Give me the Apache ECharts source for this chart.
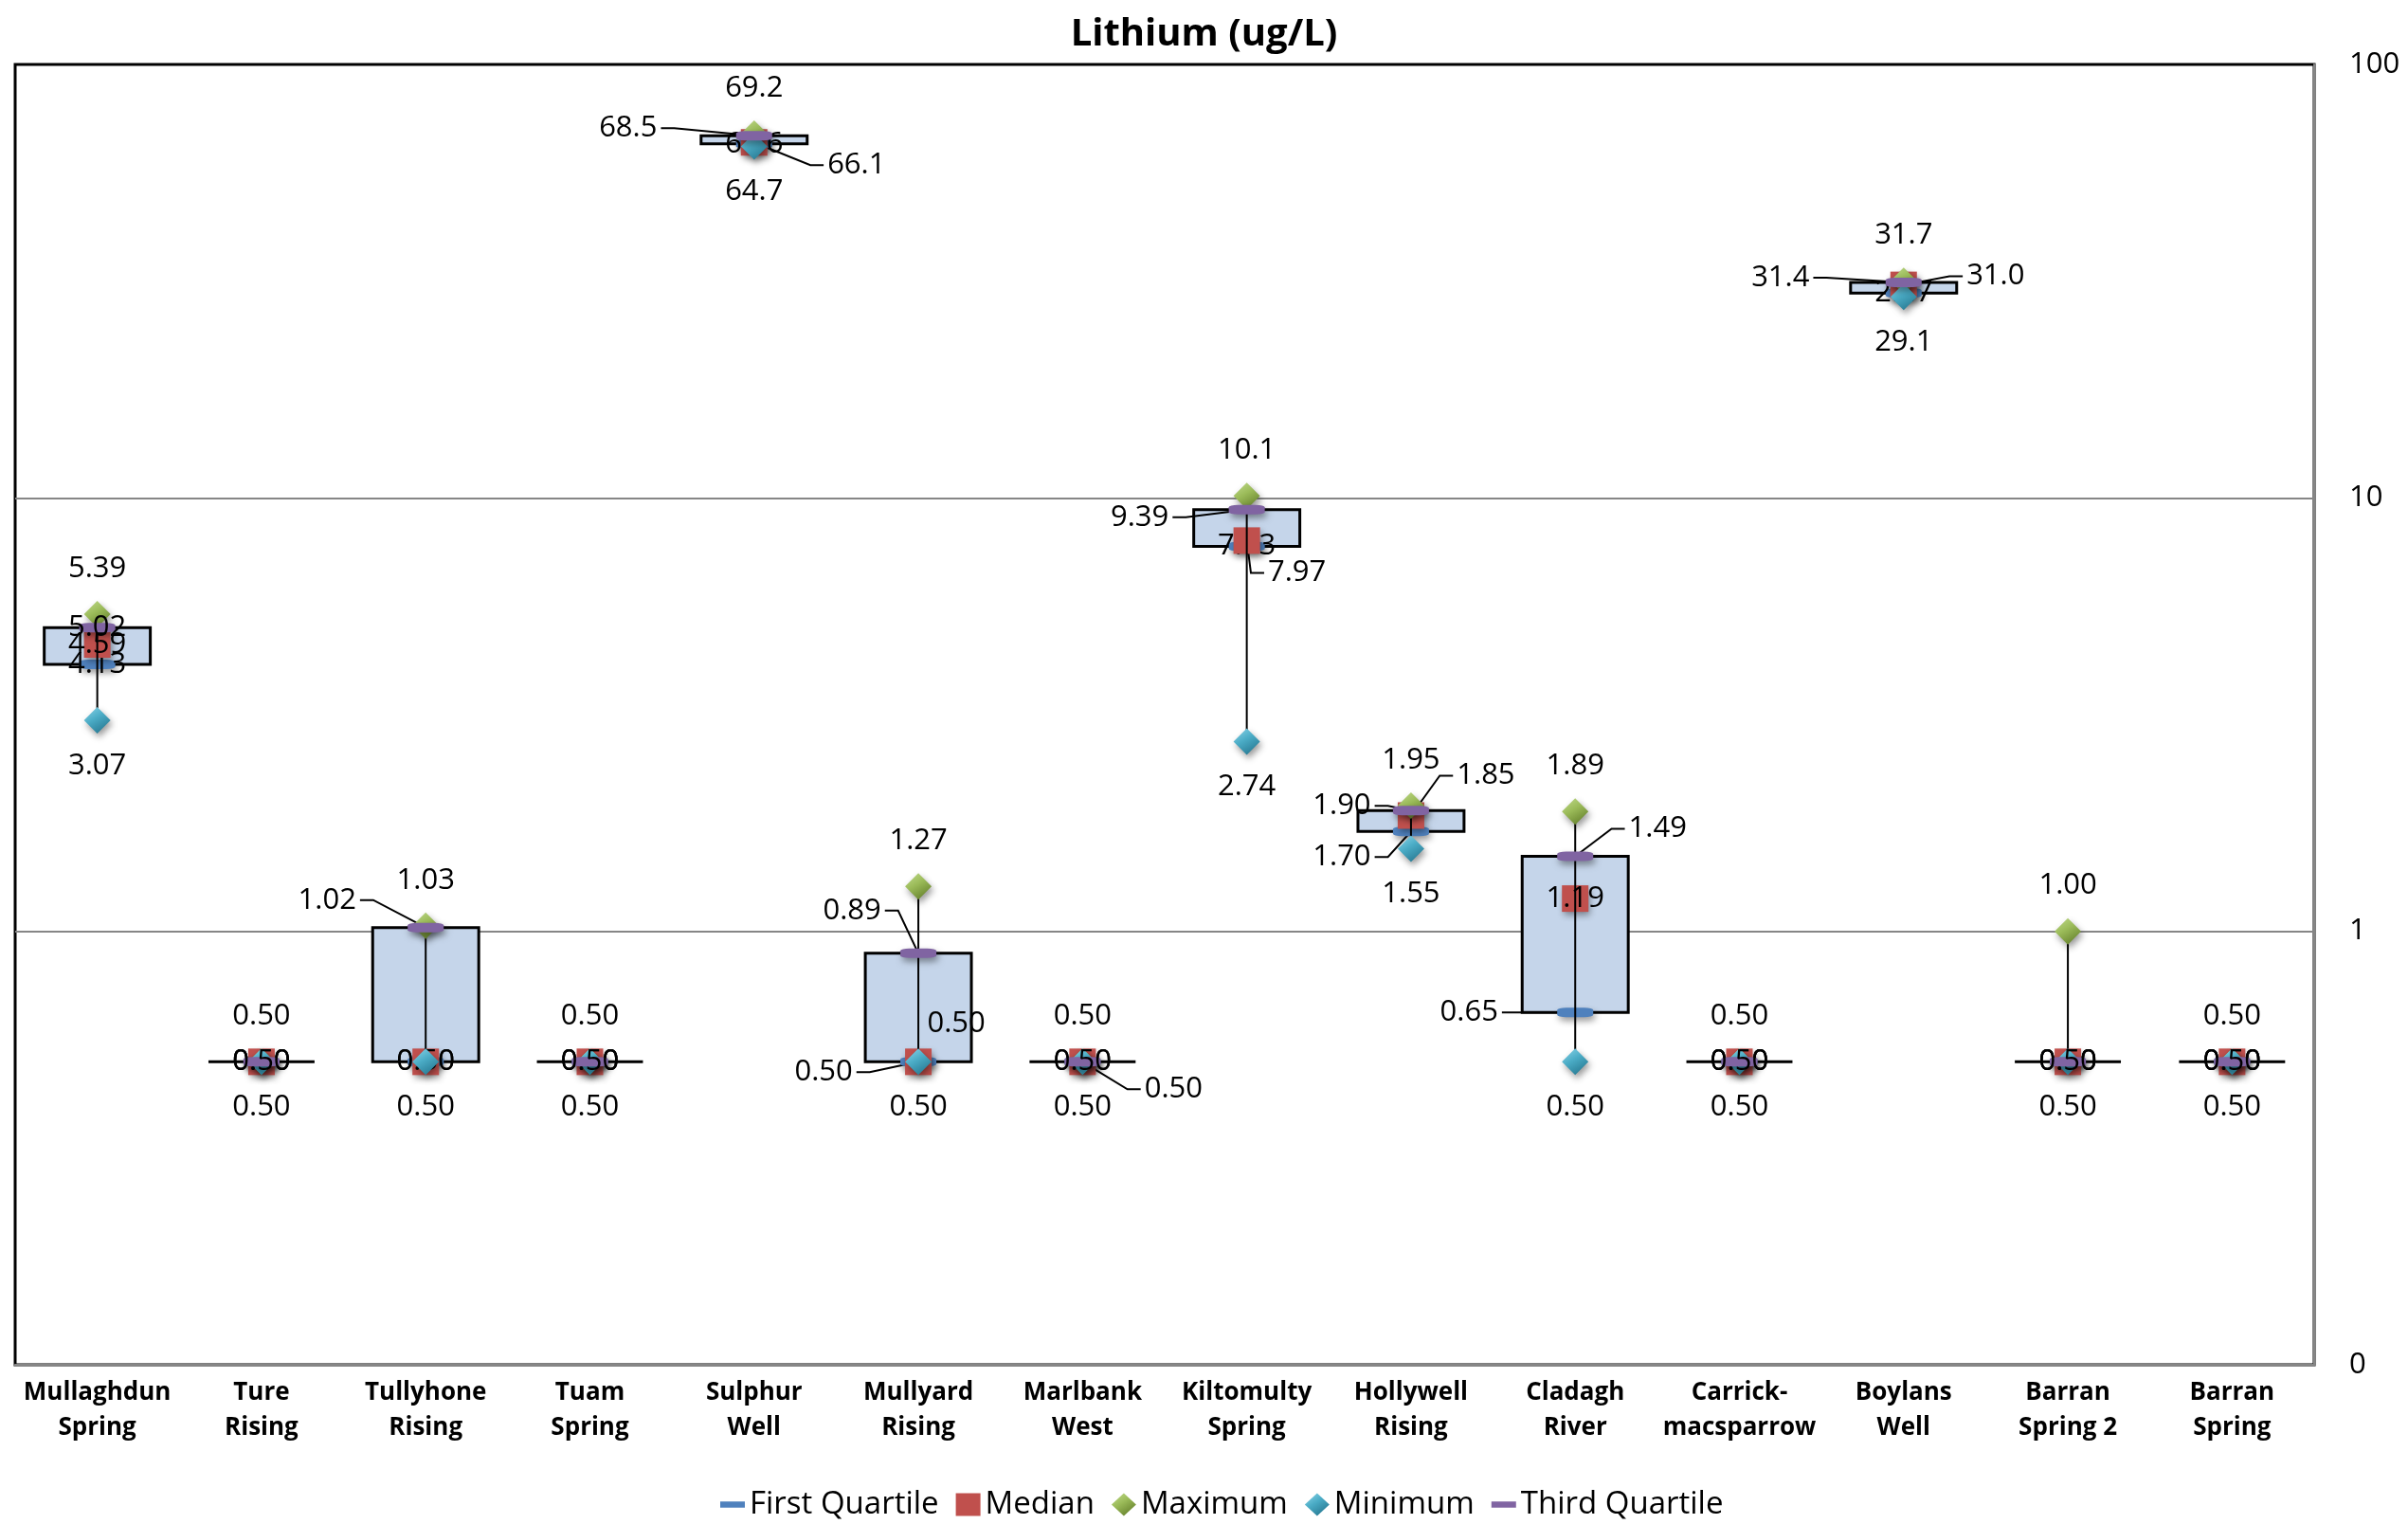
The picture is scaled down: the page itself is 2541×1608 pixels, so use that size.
<!DOCTYPE html>
<html>
<head>
<meta charset="utf-8">
<script src="https://cdn.jsdelivr.net/npm/echarts@6/dist/echarts.min.js"></script>
<style>
  html, body { margin: 0; padding: 0; background: #ffffff; }
  #chart { width: 2541px; height: 1608px; }
</style>
</head>
<body>
<div id="chart"></div>
<script>
// Sampling sites (two-line tick labels)
const categories = [
  'Mullaghdun\nSpring', 'Ture\nRising', 'Tullyhone\nRising', 'Tuam\nSpring',
  'Sulphur\nWell', 'Mullyard\nRising', 'Marlbank\nWest', 'Kiltomulty\nSpring',
  'Hollywell\nRising', 'Cladagh\nRiver', 'Carrick-\nmacsparrow', 'Boylans\nWell',
  'Barran\nSpring 2', 'Barran\nSpring'
];

// Lithium summary statistics per site (ug/L)
const minimum       = [3.07, 0.50, 0.50, 0.50, 64.7, 0.50, 0.50, 2.74, 1.55, 0.50, 0.50, 29.1, 0.50, 0.50];
const firstQuartile = [4.13, 0.50, 0.50, 0.50, 65.6, 0.50, 0.50, 7.73, 1.70, 0.65, 0.50, 29.7, 0.50, 0.50];
const median        = [4.59, 0.50, 0.50, 0.50, 66.1, 0.50, 0.50, 7.97, 1.85, 1.19, 0.50, 31.0, 0.50, 0.50];
const thirdQuartile = [5.02, 0.50, 1.02, 0.50, 68.5, 0.89, 0.50, 9.39, 1.90, 1.49, 0.50, 31.4, 0.50, 0.50];
const maximum       = [5.39, 0.50, 1.03, 0.50, 69.2, 1.27, 0.50, 10.1, 1.95, 1.89, 0.50, 31.7, 1.00, 0.50];

// Log-axis ticks and their printed text
const yTickValues = [0.1, 1, 10, 100];
const yTickLabels = ['0', '1', '10', '100'];

const FONT = '"Open Sans", "Liberation Sans", sans-serif';
const LABEL_SIZE = 31;
const TEXT = '#000000';
const GRID_GRAY = '#868686';
const BOX_FILL = '#C5D5EA';

// Label nudges (px) for crowded points: [dx, dy, drawLeaderLine]
const labelPlacement = {
  'Third Quartile': { 2: [-104, -29, true], 4: [-133, -8, true], 5: [-70, -45, true],
                      7: [-113, 8, true], 8: [-73, -5, true], 9: [87, -29, true], 11: [-130, -5, true] },
  'Median':         { 4: [108, 24, true], 5: [40, -40, false], 6: [96, 29, true],
                      7: [53, 34, true], 8: [79, -42, true], 11: [97, -9, true] },
  'First Quartile': { 5: [-100, 11, true], 8: [-73, 27, true], 9: [-112, 0, true] }
};
const defaultShift = { 'Maximum': [0, -48], 'Minimum': [0, 48] };

const seriesValues = {
  'First Quartile': firstQuartile, 'Median': median, 'Third Quartile': thirdQuartile
};

function fmt(v) { return v >= 10 ? v.toFixed(1) : v.toFixed(2); }

// text width measurement for leader-line anchoring
const measureCtx = document.createElement('canvas').getContext('2d');
measureCtx.font = LABEL_SIZE + 'px ' + FONT;
function textWidth(s) { return measureCtx.measureText(s).width; }

// leader lines: one entry per nudged label that has a connector
const leaders = [];
Object.keys(labelPlacement).forEach(name => {
  const place = labelPlacement[name];
  Object.keys(place).forEach(k => {
    const i = +k;
    if (place[i][2]) leaders.push({ name: name, index: i, value: seriesValues[name][i] });
  });
});

function gradient(light, mid, dark) {
  return new echarts.graphic.LinearGradient(0, 0, 0.6, 1, [
    { offset: 0, color: light }, { offset: 0.5, color: mid }, { offset: 1, color: dark }
  ]);
}

function markerSeries(name, values, symbol, size, color, z) {
  const place = labelPlacement[name] || {};
  return {
    name: name,
    type: 'scatter',
    z: z,
    symbol: symbol,
    symbolSize: size,
    data: values.map((v, i) => [i, v]),
    itemStyle: {
      color: color, opacity: 1,
      shadowBlur: 7, shadowColor: 'rgba(0,0,0,0.4)', shadowOffsetX: 2, shadowOffsetY: 4
    },
    label: {
      show: true, position: 'inside',
      formatter: p => fmt(p.value[1]),
      fontFamily: FONT, fontSize: LABEL_SIZE, color: TEXT
    },
    labelLayout: p => {
      const s = place[p.dataIndex] || defaultShift[name] || [0, 0];
      return { dx: s[0], dy: s[1] };
    },
    emphasis: { disabled: true }
  };
}

const chart = echarts.init(document.getElementById('chart'));

const option = {
  backgroundColor: '#ffffff',
  animation: false,
  title: {
    text: 'Lithium (ug/L)',
    left: 'center', top: 12,
    textStyle: { fontFamily: FONT, fontSize: 40, fontWeight: 'bold', color: TEXT }
  },
  legend: {
    data: [
      { name: 'First Quartile', icon: 'path://M0,0H24V6H0Z' },
      { name: 'Median', icon: 'rect' },
      { name: 'Maximum', icon: 'diamond' },
      { name: 'Minimum', icon: 'diamond' },
      { name: 'Third Quartile', icon: 'path://M0,0H24V6H0Z' }
    ],
    left: 755, top: 1566,
    itemWidth: 26, itemHeight: 24, itemGap: 18,
    textStyle: { fontFamily: FONT, fontSize: 33, color: TEXT },
    selectedMode: false
  },
  grid: {
    left: 16, right: 99, top: 68, bottom: 168,
    show: true, borderColor: '#000', borderWidth: 3,
    outerBoundsMode: 'none', containLabel: false
  },
  xAxis: {
    type: 'category',
    data: categories,
    boundaryGap: true,
    axisLine: { show: true, lineStyle: { color: GRID_GRAY, width: 3 } },
    axisTick: { show: false },
    splitLine: { show: false },
    axisLabel: {
      interval: 0, margin: 11,
      fontFamily: FONT, fontSize: 26, fontWeight: 'bold', lineHeight: 37, color: TEXT
    }
  },
  yAxis: {
    type: 'log', logBase: 10, min: 0.1, max: 100,
    position: 'right',
    axisLine: { show: true, lineStyle: { color: GRID_GRAY, width: 2 } },
    axisTick: { show: false },
    minorTick: { show: false },
    splitLine: { show: true, lineStyle: { color: [GRID_GRAY, GRID_GRAY, GRID_GRAY, '#000'], width: 2 } },
    axisLabel: {
      margin: 37, fontFamily: FONT, fontSize: 31, color: TEXT,
      formatter: v => {
        const k = yTickValues.findIndex(t => Math.abs(Math.log10(t) - Math.log10(v)) < 1e-6);
        return k >= 0 ? yTickLabels[k] : '';
      }
    }
  },
  series: [
    {
      // interquartile boxes
      name: 'box', type: 'custom', z: 1, silent: true,
      data: categories.map((c, i) => [i, firstQuartile[i], thirdQuartile[i]]),
      encode: { x: 0, y: [1, 2] },
      renderItem: (params, api) => {
        const i = api.value(0);
        const lo = api.coord([i, api.value(1)]);
        const hi = api.coord([i, api.value(2)]);
        const w = api.size([1, 0])[0] * 0.646;
        return {
          type: 'rect',
          shape: { x: lo[0] - w / 2, y: hi[1], width: w, height: lo[1] - hi[1] },
          style: { fill: BOX_FILL, stroke: '#000', lineWidth: 3 }
        };
      }
    },
    {
      // connectors between nudged labels and their markers
      name: 'leader', type: 'custom', z: 1.5, silent: true,
      data: leaders.map(d => [d.index, d.value]),
      encode: { x: 0, y: 1 },
      renderItem: (params, api) => {
        const d = leaders[params.dataIndex];
        const s = labelPlacement[d.name][d.index];
        const p = api.coord([api.value(0), api.value(1)]);
        const cx = p[0] + s[0], cy = p[1] + s[1];
        const hw = textWidth(fmt(d.value)) / 2 + 4;
        const dir = s[0] < 0 ? 1 : -1;          // from label toward the marker
        const ax = cx + dir * hw;
        return {
          type: 'polyline',
          shape: { points: [[ax, cy], [ax + dir * 14, cy], [p[0], p[1]]] },
          style: { stroke: '#000', lineWidth: 2, fill: null }
        };
      }
    },
    markerSeries('First Quartile', firstQuartile, 'roundRect', [38, 10], '#4F81BD', 2),
    markerSeries('Median', median, 'rect', [28, 28], '#C0504D', 3),
    {
      // whiskers from minimum to maximum
      name: 'whisker', type: 'custom', z: 4, silent: true,
      data: categories.map((c, i) => [i, minimum[i], maximum[i]]),
      encode: { x: 0, y: [1, 2] },
      renderItem: (params, api) => {
        const i = api.value(0);
        const a = api.coord([i, api.value(1)]);
        const b = api.coord([i, api.value(2)]);
        return {
          type: 'line',
          shape: { x1: a[0], y1: a[1], x2: b[0], y2: b[1] },
          style: { stroke: '#000', lineWidth: 2 }
        };
      }
    },
    markerSeries('Maximum', maximum, 'diamond', [28, 28], gradient('#C2DC8E', '#9BBB59', '#6A8630'), 5),
    markerSeries('Minimum', minimum, 'diamond', [28, 28], gradient('#8FD6EA', '#4BACC6', '#2A7D96'), 6),
    markerSeries('Third Quartile', thirdQuartile, 'roundRect', [38, 10], '#8064A2', 7)
  ]
};

chart.setOption(option);
</script>
</body>
</html>
